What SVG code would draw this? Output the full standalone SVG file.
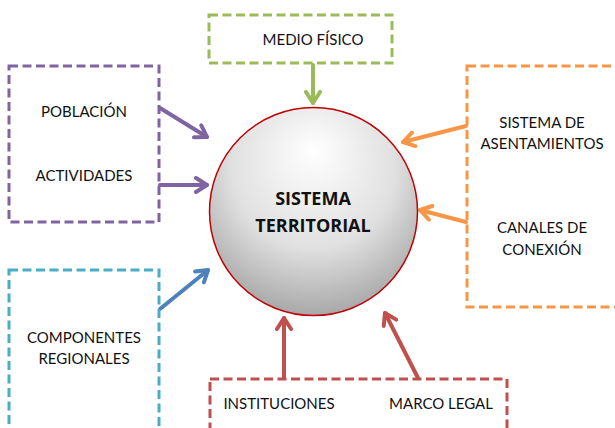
<svg xmlns="http://www.w3.org/2000/svg" width="615" height="428" viewBox="0 0 615 428">
<style>
.box{fill:none;stroke-width:3;stroke-dasharray:9 4.5}
.t{font-family:Lato,"Open Sans","Liberation Sans",sans-serif;font-size:15px;fill:#111;text-anchor:middle}
.c{font-family:"Open Sans","Liberation Sans",sans-serif;font-size:18px;font-weight:bold;fill:#111;text-anchor:middle}
.a{fill:none;stroke-width:4;stroke-linecap:round}
</style>
<defs>
<radialGradient id="g" cx="0.5" cy="0.35" r="0.72" fx="0.5" fy="0.2">
<stop offset="0" stop-color="#ffffff"/>
<stop offset="0.55" stop-color="#e0e0e0"/>
<stop offset="1" stop-color="#9c9c9c"/>
</radialGradient>
<marker id="mg" viewBox="0 0 16 18" refX="13" refY="9" markerWidth="16" markerHeight="18" markerUnits="userSpaceOnUse" orient="auto"><path d="M2,2 L13,9 L2,16" fill="none" stroke="#9bbb59" stroke-width="4" stroke-linecap="round" stroke-linejoin="round"/></marker>
<marker id="mp" viewBox="0 0 16 18" refX="13" refY="9" markerWidth="16" markerHeight="18" markerUnits="userSpaceOnUse" orient="auto"><path d="M2,2 L13,9 L2,16" fill="none" stroke="#8064a2" stroke-width="4" stroke-linecap="round" stroke-linejoin="round"/></marker>
<marker id="mo" viewBox="0 0 16 18" refX="13" refY="9" markerWidth="16" markerHeight="18" markerUnits="userSpaceOnUse" orient="auto"><path d="M2,2 L13,9 L2,16" fill="none" stroke="#f79646" stroke-width="4" stroke-linecap="round" stroke-linejoin="round"/></marker>
<marker id="mb" viewBox="0 0 16 18" refX="13" refY="9" markerWidth="16" markerHeight="18" markerUnits="userSpaceOnUse" orient="auto"><path d="M2,2 L13,9 L2,16" fill="none" stroke="#4f81bd" stroke-width="4" stroke-linecap="round" stroke-linejoin="round"/></marker>
<marker id="mr" viewBox="0 0 16 18" refX="13" refY="9" markerWidth="16" markerHeight="18" markerUnits="userSpaceOnUse" orient="auto"><path d="M2,2 L13,9 L2,16" fill="none" stroke="#c0504d" stroke-width="4" stroke-linecap="round" stroke-linejoin="round"/></marker>
</defs>
<rect width="615" height="428" fill="#fff"/>
<g id="connectors">
<line class="a" stroke="#9bbb59" x1="313" y1="65" x2="313" y2="103" marker-end="url(#mg)"/>
<line class="a" stroke="#8064a2" x1="160" y1="108" x2="207" y2="137" marker-end="url(#mp)"/>
<line class="a" stroke="#8064a2" x1="160" y1="185" x2="207" y2="185" marker-end="url(#mp)"/>
<line class="a" stroke="#f79646" x1="466" y1="126" x2="403" y2="142" marker-end="url(#mo)"/>
<line class="a" stroke="#f79646" x1="466" y1="222" x2="420" y2="210" marker-end="url(#mo)"/>
<line class="a" stroke="#4f81bd" x1="160" y1="309" x2="208" y2="270" marker-end="url(#mb)"/>
<line class="a" stroke="#c0504d" x1="284" y1="378" x2="284" y2="318" marker-end="url(#mr)"/>
<line class="a" stroke="#c0504d" x1="418" y1="378" x2="385" y2="313" marker-end="url(#mr)"/>
</g>
<g id="medio">
<rect class="box" stroke="#9bbb59" x="209" y="15" width="183" height="48"/>
<text class="t" x="313" y="45">MEDIO FÍSICO</text>
</g>
<g id="poblacion">
<rect class="box" stroke="#8064a2" x="9" y="66" width="150" height="156"/>
<text class="t" x="84" y="117">POBLACIÓN</text>
<text class="t" x="84" y="181">ACTIVIDADES</text>
</g>
<g id="asentamientos">
<rect class="box" stroke="#f79646" x="467" y="66" width="160" height="241"/>
<text class="t" x="542" y="128">SISTEMA DE</text>
<text class="t" x="542" y="149">ASENTAMIENTOS</text>
<text class="t" x="542" y="233">CANALES DE</text>
<text class="t" x="542" y="255">CONEXIÓN</text>
</g>
<g id="componentes">
<rect class="box" stroke="#4bacc6" x="9" y="270" width="150" height="170"/>
<text class="t" x="84" y="343">COMPONENTES</text>
<text class="t" x="84" y="364">REGIONALES</text>
</g>
<g id="instituciones">
<rect class="box" stroke="#c0504d" x="210" y="379" width="297" height="60"/>
<text class="t" x="279" y="409">INSTITUCIONES</text>
<text class="t" x="441" y="409">MARCO LEGAL</text>
</g>
<g id="sistema">
<circle cx="313.5" cy="211.5" r="104" fill="url(#g)" stroke="#c00000" stroke-width="1.5"/>
<text class="c" x="313" y="205">SISTEMA</text>
<text class="c" x="313" y="232">TERRITORIAL</text>
</g>
</svg>
